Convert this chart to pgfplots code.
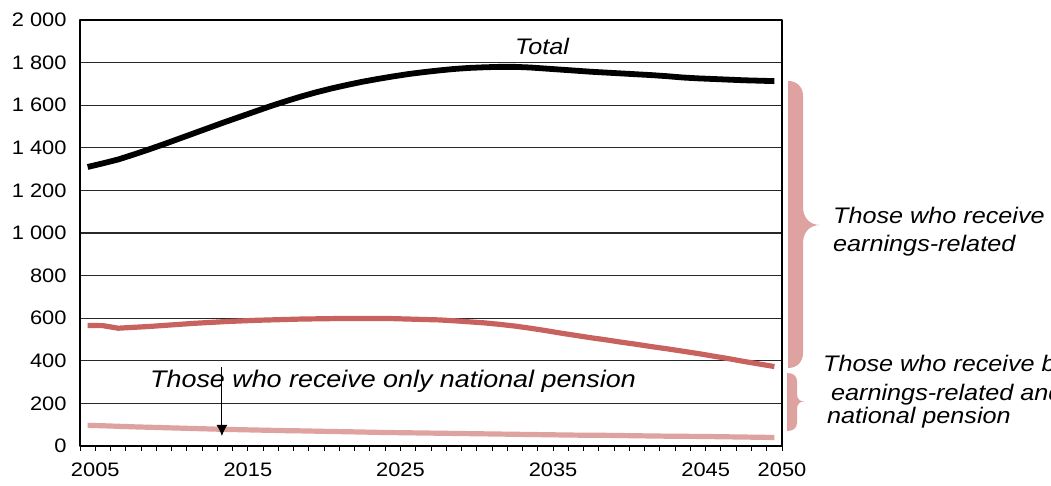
\documentclass[border=0pt]{standalone}
\usepackage{fontspec}
\setmainfont{Liberation Sans}[FakeStretch=1.12]
\usepackage{pgfplots}
\pgfplotsset{compat=1.18}
\usetikzlibrary{arrows.meta}
\definecolor{pinkc}{RGB}{222,162,160}
\definecolor{redc}{RGB}{200,98,94}
\definecolor{gridc}{RGB}{40,40,40}
\begin{document}
\begin{tikzpicture}
\useasboundingbox (0,0) rectangle (1051pt,486pt);
\clip (0,0) rectangle (1051pt,486pt);
\begin{axis}[
  at={(80pt,40pt)}, anchor=south west,
  scale only axis, width=702pt, height=426pt,
  xmin=2004.5, xmax=2050.5, ymin=0, ymax=2000,
  axis line style={black, line width=1.3pt},
  xtick={2005.5,2015.5,2025.5,2035.5,2045.5,2050.5},
  xticklabels={2005,2015,2025,2035,2045,2050},
  minor xtick={2004.5,2005.5,...,2050.5},
  xtick pos=bottom,
  tick align=outside,
  major tick length=5pt, minor tick length=5pt,
  xtick style={black, line width=1pt},
  minor x tick style={black, line width=1pt},
  ytick={0,200,...,2000},
  yticklabels={0,200,400,600,800,1 000,1 200,1 400,1 600,1 800,2 000},
  ytick style={draw=none},
  ymajorgrids,
  major grid style={gridc, line width=1.2pt},
  ticklabel style={font=\fontsize{19.5}{20}\selectfont},
  xticklabel style={yshift=-8pt},
  yticklabel style={xshift=-5pt},
  line join=round,
]
\addplot[black, line width=5.8pt] coordinates {
(2005,1310)(2006,1327)(2007,1345)(2008,1368)(2009,1392)(2010,1417)
(2011,1443)(2012,1469)(2013,1495)(2014,1521)(2015,1546)(2016,1571)
(2017,1596)(2018,1619)(2019,1641)(2020,1661)(2021,1679)(2022,1695)
(2023,1710)(2024,1723)(2025,1735)(2026,1746)(2027,1755)(2028,1763)
(2029,1770)(2030,1775)(2031,1778)(2032,1780)(2033,1780)(2034,1777)
(2035,1772)(2036,1767)(2037,1762)(2038,1757)(2039,1753)(2040,1749)
(2041,1745)(2042,1741)(2043,1736)(2044,1730)(2045,1726)(2046,1723)
(2047,1720)(2048,1717)(2049,1715)(2050,1713)};
\addplot[redc, line width=5.2pt] coordinates {
(2005,566)(2006,565)(2007,553)(2008,557)(2009,561)(2010,566)
(2011,571)(2012,576)(2013,580)(2014,584)(2015,587)(2016,590)
(2017,592)(2018,594)(2019,596)(2020,597)(2021,598)(2022,599)
(2023,599)(2024,599)(2025,598)(2026,596)(2027,594)(2028,592)
(2029,588)(2030,583)(2031,578)(2032,571)(2033,563)(2034,553)
(2035,542)(2036,530)(2037,519)(2038,508)(2039,498)(2040,487)
(2041,477)(2042,466)(2043,456)(2044,445)(2045,434)(2046,422)
(2047,410)(2048,397)(2049,385)(2050,373)};
\addplot[pinkc, line width=5.2pt] coordinates {
(2005,97)(2006,95)(2007,92.5)(2008,90)(2009,88)(2010,86)
(2011,84)(2012,82)(2013,80)(2014,78)(2015,76.5)(2016,75)
(2017,73.5)(2018,72)(2019,71)(2020,69.5)(2021,68)(2022,67)
(2023,65.5)(2024,64)(2025,63)(2026,62)(2027,61)(2028,60)
(2029,59)(2030,58)(2031,57)(2032,56)(2033,55)(2034,54)
(2035,53)(2036,52)(2037,51)(2038,50.5)(2039,50)(2040,49)
(2041,48)(2042,47)(2043,46)(2044,45.5)(2045,45)(2046,44)
(2047,43)(2048,42)(2049,41)(2050,40)};
\draw[black, line width=1pt, -{Latex[length=11pt,width=11pt]}] (axis cs:2013.8,370) -- (axis cs:2013.8,47);
\end{axis}
% annotations (image px -> y = 486 - py)
\node[anchor=base, inner sep=0pt, font=\fontsize{22.5}{24}\selectfont\itshape] at (542pt,431pt) {Total};
\node[anchor=base west, inner sep=0pt, font=\fontsize{24}{26}\selectfont\itshape] at (150pt,98.7pt) {Those who receive only national pension};
\node[anchor=base west, inner sep=0pt, font=\fontsize{22.5}{24}\selectfont\itshape] at (833pt,262.7pt) {Those who receive only};
\node[anchor=base west, inner sep=0pt, font=\fontsize{22.5}{24}\selectfont\itshape] at (833pt,234.3pt) {earnings-related};
\node[anchor=base west, inner sep=0pt, font=\fontsize{22.5}{24}\selectfont\itshape] at (823pt,114.3pt) {Those who receive both};
\node[anchor=base west, inner sep=0pt, font=\fontsize{22.5}{24}\selectfont\itshape] at (831pt,85pt) {earnings-related and};
\node[anchor=base west, inner sep=0pt, font=\fontsize{22.5}{24}\selectfont\itshape] at (827pt,62pt) {national pension};
% braces
\fill[pinkc] (788pt,405pt) .. controls (797pt,405pt) and (803pt,399pt) .. (803pt,390pt)
  -- (803pt,279pt) .. controls (803pt,268pt) and (810pt,261pt) .. (820pt,261pt)
  .. controls (810pt,261pt) and (803pt,254pt) .. (803pt,243pt)
  -- (803pt,133pt) .. controls (803pt,124pt) and (797pt,118pt) .. (788pt,118pt) -- cycle;
\fill[pinkc] (787pt,113pt) .. controls (793pt,113pt) and (797pt,110pt) .. (797pt,105pt)
  -- (797pt,92pt) .. controls (797pt,87pt) and (800pt,84.5pt) .. (804pt,84.5pt)
  .. controls (800pt,84.5pt) and (797pt,82pt) .. (797pt,77pt)
  -- (797pt,63pt) .. controls (797pt,58pt) and (793pt,55pt) .. (787pt,55pt) -- cycle;
\end{tikzpicture}
\end{document}
